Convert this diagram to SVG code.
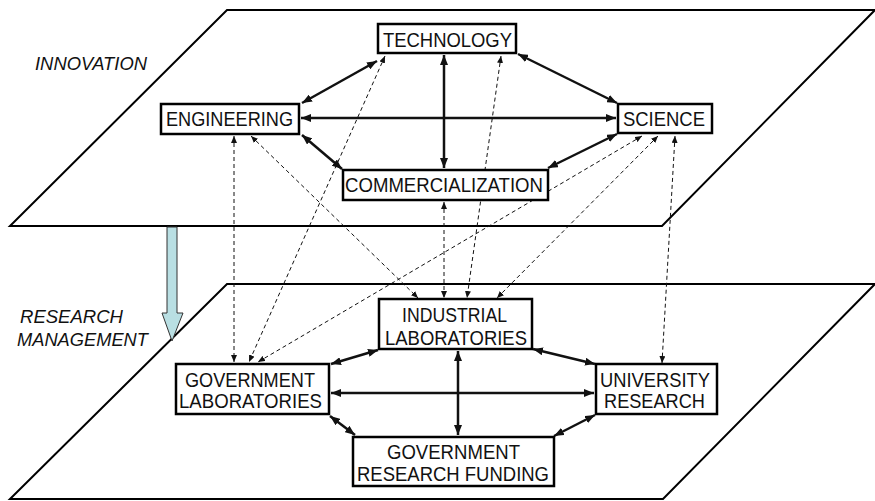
<svg xmlns="http://www.w3.org/2000/svg" width="875" height="501" viewBox="0 0 875 501">
<style>
.plane{fill:none;stroke:#000;stroke-width:2}
.box{fill:#fff;stroke:#000;stroke-width:2.5}
.lbl{font-family:"Liberation Sans",Arial,sans-serif;font-size:19.5px;fill:#111}
.ital{font-family:"Liberation Sans",Arial,sans-serif;font-size:17.5px;font-style:italic;fill:#111}
.solid{stroke:#111;stroke-width:2.5;fill:none;marker-start:url(#ah);marker-end:url(#ah)}
.dash{stroke:#111;stroke-width:1;stroke-dasharray:4 3;fill:none;marker-start:url(#dh);marker-end:url(#dh)}
</style>
<defs>
<marker id="ah" markerUnits="userSpaceOnUse" viewBox="0 0 10 8" refX="10" refY="4" markerWidth="10" markerHeight="8" orient="auto-start-reverse"><path d="M0,0 L10,4 L0,8 z" fill="#111"/></marker>
<marker id="dh" markerUnits="userSpaceOnUse" viewBox="0 0 7 6" refX="7" refY="3" markerWidth="7" markerHeight="6" orient="auto-start-reverse"><path d="M0,0 L7,3 L0,6 z" fill="#111"/></marker>
</defs>
<rect width="875" height="501" fill="#fff"/>
<g id="planes">
<polygon class="plane" points="227,10 875,10 662,226 10,226"/>
<polygon class="plane" points="227,284 875,284 663,499 10,499"/>
</g>
<g id="layer-labels">
<text class="ital" x="35" y="70" textLength="112" lengthAdjust="spacingAndGlyphs">INNOVATION</text>
<text class="ital" x="20" y="323" textLength="103" lengthAdjust="spacingAndGlyphs">RESEARCH</text>
<text class="ital" x="17" y="346" textLength="131" lengthAdjust="spacingAndGlyphs">MANAGEMENT</text>
</g>
<g id="transition-arrow">
<polygon points="167,227 177,227 177,313 183,313 172,341 162,313 167,313" fill="#b9dfe3" stroke="#333" stroke-width="1"/>
</g>
<g id="connectors">
<line class="dash" x1="234" y1="136" x2="234" y2="362"/>
<line class="dash" x1="251" y1="136" x2="418" y2="298"/>
<line class="dash" x1="385" y1="56" x2="249" y2="362"/>
<line class="dash" x1="501" y1="56" x2="467" y2="298"/>
<line class="dash" x1="444" y1="202" x2="444" y2="298"/>
<line class="dash" x1="642" y1="136" x2="258" y2="362"/>
<line class="dash" x1="658" y1="136" x2="497" y2="298"/>
<line class="dash" x1="675" y1="136" x2="662" y2="363"/>
<line class="solid" x1="377" y1="61" x2="302" y2="103"/>
<line class="solid" x1="518" y1="54" x2="617" y2="103"/>
<line class="solid" x1="444" y1="55" x2="444" y2="168"/>
<line class="solid" x1="301" y1="118" x2="616" y2="118"/>
<line class="solid" x1="302" y1="135" x2="342" y2="169"/>
<line class="solid" x1="548" y1="168" x2="617" y2="134"/>
<line class="solid" x1="331" y1="364" x2="378" y2="350"/>
<line class="solid" x1="533" y1="349" x2="595" y2="364"/>
<line class="solid" x1="458" y1="351" x2="458" y2="435"/>
<line class="solid" x1="331" y1="393" x2="594" y2="393"/>
<line class="solid" x1="330" y1="416" x2="355" y2="435"/>
<line class="solid" x1="595" y1="415" x2="554" y2="436"/>
</g>
<g id="technology"><rect class="box" x="378" y="24" width="138" height="29"/><text class="lbl" x="383" y="47" textLength="129" lengthAdjust="spacingAndGlyphs">TECHNOLOGY</text></g>
<g id="engineering"><rect class="box" x="161" y="104" width="138" height="30"/><text class="lbl" x="166" y="126" textLength="127" lengthAdjust="spacingAndGlyphs">ENGINEERING</text></g>
<g id="science"><rect class="box" x="618" y="104" width="94" height="29"/><text class="lbl" x="623" y="126" textLength="82" lengthAdjust="spacingAndGlyphs">SCIENCE</text></g>
<g id="commercialization"><rect class="box" x="343" y="170" width="205" height="30"/><text class="lbl" x="345" y="192" textLength="198" lengthAdjust="spacingAndGlyphs">COMMERCIALIZATION</text></g>
<g id="industrial-laboratories"><rect class="box" x="379" y="299" width="153" height="50"/><text class="lbl" x="402" y="322" textLength="105" lengthAdjust="spacingAndGlyphs">INDUSTRIAL</text><text class="lbl" x="385" y="345" textLength="142" lengthAdjust="spacingAndGlyphs">LABORATORIES</text></g>
<g id="government-laboratories"><rect class="box" x="176" y="364" width="153" height="50"/><text class="lbl" x="185" y="387" textLength="130" lengthAdjust="spacingAndGlyphs">GOVERNMENT</text><text class="lbl" x="179" y="408" textLength="143" lengthAdjust="spacingAndGlyphs">LABORATORIES</text></g>
<g id="university-research"><rect class="box" x="596" y="364" width="121" height="50"/><text class="lbl" x="600" y="387" textLength="110" lengthAdjust="spacingAndGlyphs">UNIVERSITY</text><text class="lbl" x="604" y="408" textLength="101" lengthAdjust="spacingAndGlyphs">RESEARCH</text></g>
<g id="government-research-funding"><rect class="box" x="353" y="437" width="201" height="49"/><text class="lbl" x="387" y="459" textLength="133" lengthAdjust="spacingAndGlyphs">GOVERNMENT</text><text class="lbl" x="357" y="481" textLength="192" lengthAdjust="spacingAndGlyphs">RESEARCH FUNDING</text></g>
</svg>
